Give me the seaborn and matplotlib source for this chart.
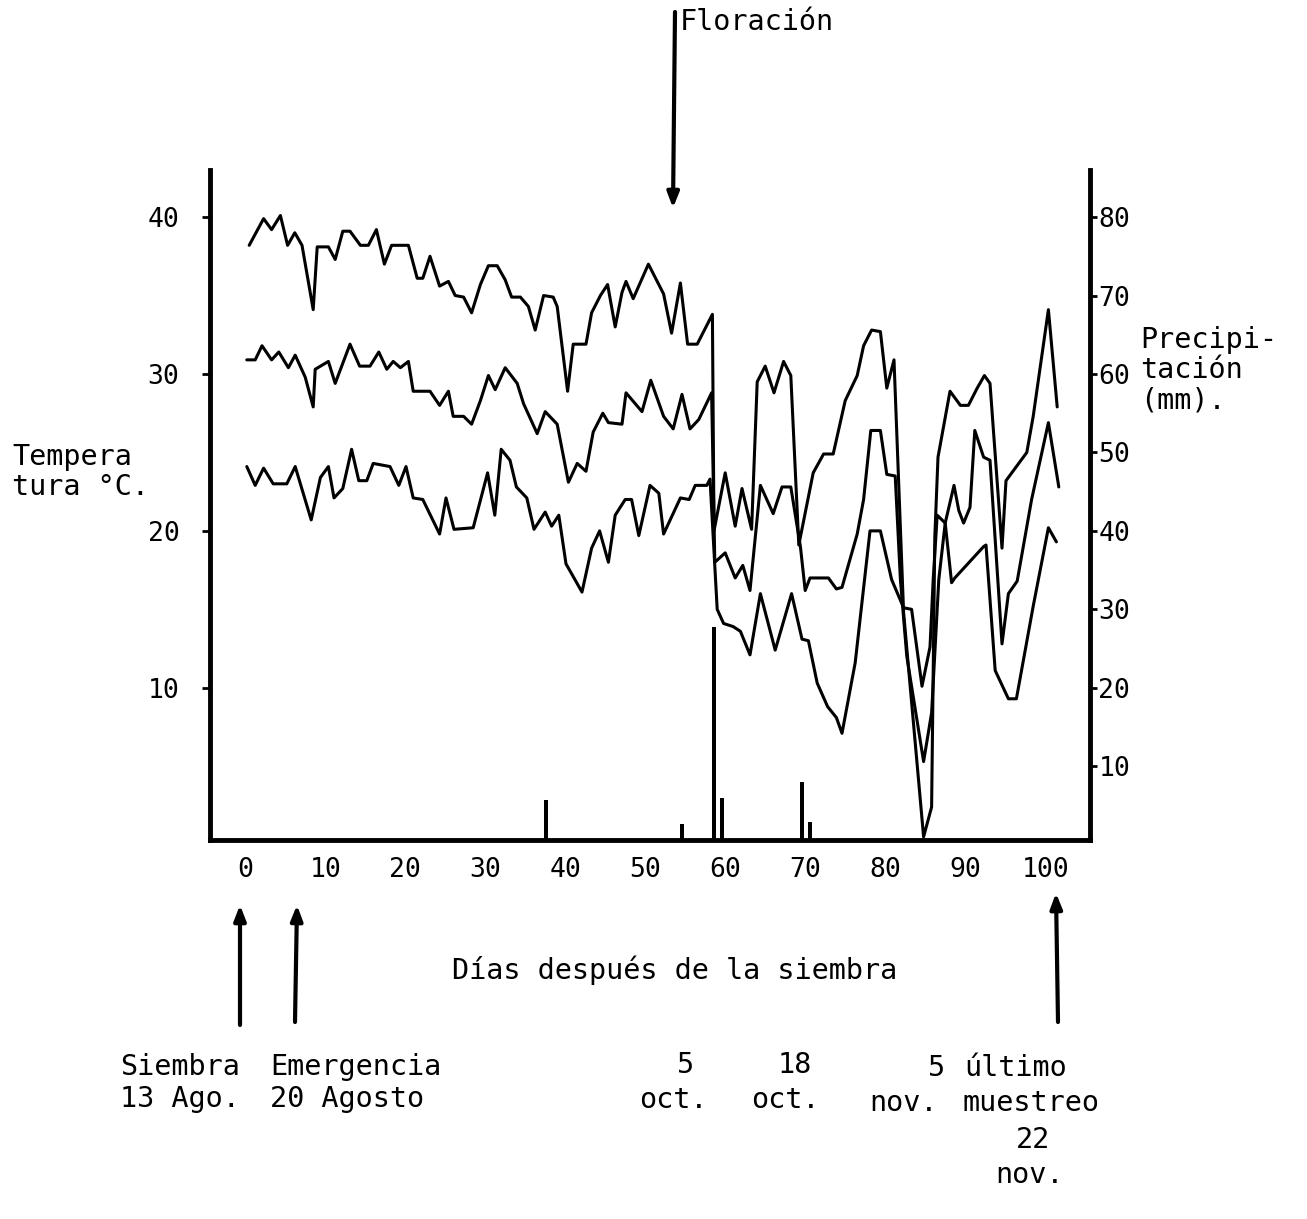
import matplotlib
matplotlib.use("Agg")
import matplotlib.pyplot as plt
import seaborn as sns
import pandas as pd

# ---------------- data ----------------
max_days = [0.5, 2.3, 3.3, 4.4, 5.3, 6.2, 7.1, 8.5, 9.0, 10.4, 11.25, 12.2, 13.1, 14.4, 15.4, 16.4,
            17.4, 18.3, 20.4, 21.5, 22.2, 23.1, 24.3, 25.4, 26.25, 27.3, 28.3, 29.4, 30.4, 31.5,
            32.5, 33.3, 34.4, 35.4, 36.25, 37.3, 38.5, 39.0, 40.3, 41.0, 42.6, 43.3, 44.4, 45.3,
            46.25, 47.1, 47.6, 48.5, 50.4, 52.3, 53.3, 54.4, 55.3, 56.5, 58.4, 58.6, 60.0, 61.25,
            62.1, 63.3, 64.0, 65.0, 66.1, 67.3, 68.2, 69.2, 71.0, 72.3, 73.5, 75.0, 76.5, 77.3,
            78.3, 79.4, 80.2, 81.1, 82.3, 84.8, 85.8, 86.2, 86.6, 88.1, 89.4, 90.4, 91.5, 92.4,
            93.1, 94.6, 95.1, 97.7, 98.5, 100.4, 101.5]
max_temp = [38.2, 39.9, 39.2, 40.1, 38.2, 39.0, 38.2, 34.1, 38.1, 38.1, 37.3, 39.1, 39.1, 38.2, 38.2, 39.2,
            37.0, 38.2, 38.2, 36.1, 36.1, 37.5, 35.6, 35.9, 35.0, 34.9, 33.9, 35.7, 36.9, 36.9,
            36.0, 34.9, 34.9, 34.3, 32.8, 35.0, 34.9, 34.3, 28.9, 31.9, 31.9, 33.9, 35.0, 35.7,
            33.0, 35.2, 35.9, 34.8, 37.0, 35.1, 32.6, 35.8, 31.9, 31.9, 33.8, 20.0, 23.7, 20.3,
            22.7, 20.1, 29.5, 30.5, 28.8, 30.8, 29.9, 19.1, 23.7, 24.9, 24.9, 28.3, 29.9, 31.8,
            32.8, 32.7, 29.1, 30.9, 14.8, 0.5, 2.4, 19.6, 24.7, 28.9, 28.0, 28.0, 29.1, 29.9,
            29.4, 18.9, 23.2, 25.0, 27.3, 34.1, 27.9]

mean_days = [0.2, 1.25, 2.1, 3.3, 4.2, 5.4, 6.25, 7.5, 8.5, 8.75, 10.4, 11.25, 13.1, 14.3, 15.6, 16.7,
             17.7, 18.5, 19.4, 20.4, 21.0, 23.1, 24.3, 25.4, 26.0, 27.3, 28.3, 29.4, 30.4, 31.25,
             32.5, 34.0, 34.8, 36.5, 37.5, 39.0, 40.4, 41.5, 42.6, 43.5, 44.7, 45.4, 47.1, 47.6,
             49.6, 50.7, 52.3, 53.5, 54.6, 55.6, 56.7, 58.3, 58.7, 60.0, 61.25, 62.2, 63.1, 64.4,
             66.0, 67.1, 68.2, 69.4, 70.0, 70.6, 72.9, 73.9, 74.6, 76.5, 77.3, 78.2, 79.4, 80.2,
             81.25, 81.9, 82.7, 84.8, 85.8, 86.7, 87.5, 88.6, 89.2, 89.8, 90.6, 91.2, 92.3, 93.1,
             94.6, 95.4, 96.5, 98.3, 100.4, 101.7]
mean_temp = [30.9, 30.9, 31.8, 30.9, 31.4, 30.4, 31.2, 29.8, 27.9, 30.3, 30.8, 29.4, 31.9, 30.5, 30.5, 31.4,
             30.3, 30.8, 30.4, 30.8, 28.9, 28.9, 28.0, 28.9, 27.3, 27.3, 26.8, 28.3, 29.9, 29.0,
             30.4, 29.4, 28.1, 26.2, 27.6, 26.8, 23.1, 24.3, 23.8, 26.3, 27.5, 26.9, 26.8, 28.8,
             27.6, 29.6, 27.3, 26.5, 28.7, 26.5, 27.1, 28.8, 18.0, 18.6, 17.0, 17.8, 16.2, 22.9,
             21.1, 22.8, 22.8, 19.0, 16.2, 17.0, 17.0, 16.3, 16.4, 19.8, 22.0, 26.4, 26.4, 23.6,
             23.5, 16.9, 12.0, 5.3, 8.4, 16.9, 20.5, 22.9, 21.3, 20.5, 21.5, 26.4, 24.7, 24.5,
             12.8, 16.0, 16.8, 22.0, 26.9, 22.8]

min_days = [0.2, 1.25, 2.3, 3.5, 5.2, 6.25, 8.25, 9.4, 10.4, 11.1, 12.2, 13.3, 14.2, 15.2, 16.0, 18.1,
            19.2, 20.1, 21.0, 22.2, 24.3, 25.1, 26.1, 28.5, 30.3, 31.2, 32.0, 33.1, 33.9, 35.2,
            36.1, 37.5, 38.3, 39.2, 40.1, 42.1, 43.3, 44.3, 45.4, 46.25, 47.5, 48.3, 49.2, 50.6,
            51.7, 52.3, 54.4, 55.5, 56.25, 57.7, 58.1, 59.0, 59.8, 61.0, 61.9, 63.1, 64.4, 66.25,
            68.3, 69.6, 70.4, 71.5, 72.8, 73.9, 74.6, 76.25, 78.1, 79.4, 80.8, 82.3, 83.3, 84.6,
            85.6, 86.0, 86.5, 87.5, 88.3, 88.7, 92.3, 92.6, 93.75, 95.4, 96.4, 98.5, 100.4, 101.4]
min_temp = [24.1, 22.9, 24.0, 23.0, 23.0, 24.1, 20.7, 23.4, 24.1, 22.1, 22.7, 25.2, 23.2, 23.2, 24.3, 24.1,
            22.9, 24.1, 22.1, 22.0, 19.8, 22.1, 20.1, 20.2, 23.7, 21.0, 25.2, 24.5, 22.8, 22.1,
            20.1, 21.2, 20.3, 21.0, 17.9, 16.1, 18.9, 20.0, 18.0, 21.0, 22.0, 22.0, 19.7, 22.9,
            22.4, 19.8, 22.1, 22.0, 22.9, 22.9, 23.3, 15.0, 14.1, 13.9, 13.6, 12.1, 16.0, 12.4,
            16.0, 13.1, 13.0, 10.3, 8.8, 8.1, 7.1, 11.6, 20.0, 20.0, 16.9, 15.1, 15.0, 10.1,
            12.6, 16.9, 21.0, 20.5, 16.7, 17.0, 19.0, 19.1, 11.1, 9.3, 9.3, 15.2, 20.2, 19.3]

rain_days = [37.6, 54.6, 58.6, 59.6, 69.6, 70.6]
rain_mm = [5.7, 2.7, 27.8, 5.9, 8.0, 2.9]

x_ticks = [0, 10, 20, 30, 40, 50, 60, 70, 80, 90, 100]
temp_ticks = [10, 20, 30, 40]
rain_ticks = [10, 20, 30, 40, 50, 60, 70, 80]

# ---------------- figure ----------------
sns.set_style("white")
plt.rcParams["font.family"] = ["DejaVu Sans Mono", "DejaVu Sans"]
plt.rcParams["text.color"] = "black"
FS = 19
TFS = 20.5

W, H = 1307, 1219
fig = plt.figure(figsize=(W / 100, H / 100), dpi=100)
ax = fig.add_axes([210 / W, 1 - 840 / H, 880 / W, 670 / H])
ax2 = ax.twinx()

for d, t in [(max_days, max_temp), (mean_days, mean_temp), (min_days, min_temp)]:
    df = pd.DataFrame({"dia": d, "temp": t})
    sns.lineplot(data=df, x="dia", y="temp", sort=False, estimator=None,
                 color="black", lw=2.2, ax=ax)

ax2.bar(rain_days, rain_mm, width=0.6, color="black", linewidth=0)

ax.set_xlim(-4.4, 105.6)
ax.set_ylim(0.3, 43.0)
ax2.set_ylim(0.6, 86.0)

ax.set_xticks(x_ticks)
ax.set_xticklabels([str(v) for v in x_ticks], fontsize=FS)
ax.set_yticks(temp_ticks)
ax.set_yticklabels([str(v) for v in temp_ticks], fontsize=FS)
ax2.set_yticks(rain_ticks)
ax2.set_yticklabels([str(v) for v in rain_ticks], fontsize=FS)
ax.set_xlabel("")
ax.set_ylabel("")

for a in (ax, ax2):
    a.spines["top"].set_visible(False)
    for s in ("left", "right", "bottom"):
        a.spines[s].set_linewidth(3.5)
        a.spines[s].set_color("black")
ax.spines["right"].set_visible(False)
ax2.spines["left"].set_visible(False)
ax2.spines["bottom"].set_visible(False)

ax.tick_params(axis="x", direction="out", length=7, width=2, pad=5, colors="black")
ax.tick_params(axis="y", direction="out", length=6, width=2, pad=16, colors="black")
ax2.tick_params(axis="y", direction="out", length=5, width=2, pad=1, colors="black")

# ---------------- annotations ----------------
def fx(x):
    return x / W

def fy(y):
    return 1 - y / H

txt = dict(fontsize=TFS, color="black")
fig.text(fx(680), fy(22), "Floración", ha="left", va="center", **txt)
fig.text(fx(12), fy(472), "Tempera\ntura °C.", ha="left", va="center", linespacing=1.1, **txt)
fig.text(fx(1140), fy(370), "Precipi-\ntación\n(mm).", ha="left", va="center", linespacing=1.1, **txt)
fig.text(fx(675), fy(970), "Días después de la siembra", ha="center", va="center", **txt)
fig.text(fx(120), fy(1083), "Siembra\n13 Ago.", ha="left", va="center", linespacing=1.15, **txt)
fig.text(fx(270), fy(1083), "Emergencia\n20 Agosto", ha="left", va="center", linespacing=1.15, **txt)
fig.text(fx(686), fy(1065), "5", ha="center", va="center", **txt)
fig.text(fx(673), fy(1100), "oct.", ha="center", va="center", **txt)
fig.text(fx(795), fy(1065), "18", ha="center", va="center", **txt)
fig.text(fx(785), fy(1100), "oct.", ha="center", va="center", **txt)
fig.text(fx(937), fy(1068), "5", ha="center", va="center", **txt)
fig.text(fx(903), fy(1103), "nov.", ha="center", va="center", **txt)
fig.text(fx(1016), fy(1068), "último", ha="center", va="center", **txt)
fig.text(fx(1031), fy(1103), "muestreo", ha="center", va="center", **txt)
fig.text(fx(1033), fy(1140), "22", ha="center", va="center", **txt)
fig.text(fx(1030), fy(1175), "nov.", ha="center", va="center", **txt)

arrow_kw = dict(arrowstyle="-|>,head_length=0.9,head_width=0.35", lw=3, color="black",
                shrinkA=0, shrinkB=0)
for (x0, y0, x1, y1) in [(675, 12, 673, 208), (240, 1025, 240, 905),
                         (295, 1022, 297, 905), (1058, 1022, 1056, 893)]:
    ax.annotate("", xy=(x1, H - y1), xycoords="figure pixels",
                xytext=(x0, H - y0), textcoords="figure pixels",
                arrowprops=arrow_kw, annotation_clip=False)

fig.savefig("out.png", dpi=100, facecolor="white")
